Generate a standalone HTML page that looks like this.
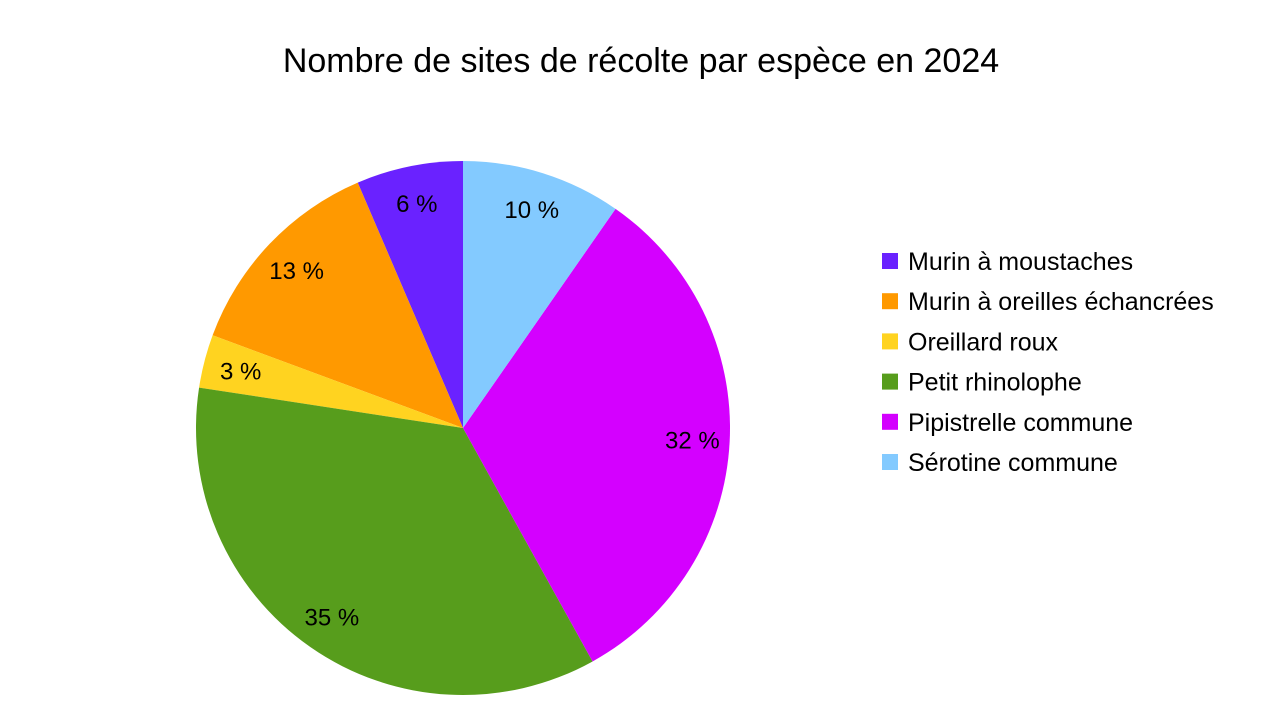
<!DOCTYPE html>
<html><head><meta charset="utf-8"><style>
body{margin:0;background:#fff;font-family:"Liberation Sans",sans-serif}
svg{display:block}
</style></head><body>
<svg id="chart" width="1279" height="711">
<text x="641" y="72" text-anchor="middle" font-size="34">Nombre de sites de récolte par espèce en 2024</text>
<g id="slices"></g><g id="labels"></g><g id="legend"></g>
</svg>
<script>
const categories=["Murin à moustaches","Murin à oreilles échancrées","Oreillard roux","Petit rhinolophe","Pipistrelle commune","Sérotine commune"];
const values=[2,4,1,11,10,3];
const colors=["#6a22ff","#ff9900","#ffd320","#579d1c","#d400ff","#83caff"];
const ns="http://www.w3.org/2000/svg";
const cx=463,cy=428,r=267;
const total=values.reduce((a,b)=>a+b,0);
const sg=document.getElementById('slices'),lg=document.getElementById('labels'),leg=document.getElementById('legend');
function pt(a,rr){return [cx+rr*Math.sin(a),cy-rr*Math.cos(a)];}
// counterclockwise from top in legend order
let cum=0;
values.forEach((v,i)=>{
  const a0=-cum/total*2*Math.PI; cum+=v; const a1=-cum/total*2*Math.PI;
  const p0=pt(a0,r),p1=pt(a1,r);
  const large=(v/total>0.5)?1:0;
  const p=document.createElementNS(ns,'path');
  p.setAttribute('d',`M${cx},${cy}L${p0[0]},${p0[1]}A${r},${r} 0 ${large} 0 ${p1[0]},${p1[1]}Z`);
  p.setAttribute('fill',colors[i]);
  
  
  sg.appendChild(p);
  const am=(a0+a1)/2,lp=pt(am,r*0.86);
  const t=document.createElementNS(ns,'text');
  t.setAttribute('x',lp[0]);t.setAttribute('y',lp[1]+9);
  t.setAttribute('text-anchor','middle');t.setAttribute('font-size','24');
  t.textContent=Math.round(v/total*100)+' %';
  
  
  lg.appendChild(t);
  const y=253+i*40.2;
  const g=document.createElementNS(ns,'g');
  
  
  const s=document.createElementNS(ns,'rect');
  s.setAttribute('x',882);s.setAttribute('y',y);s.setAttribute('width',16);s.setAttribute('height',16);s.setAttribute('fill',colors[i]);
  
  
  const lt=document.createElementNS(ns,'text');
  lt.setAttribute('x',908);lt.setAttribute('y',y+17);lt.setAttribute('font-size','25');
  lt.textContent=categories[i];
  
  
  g.appendChild(s);g.appendChild(lt);leg.appendChild(g);
});
</script>
</body></html>
